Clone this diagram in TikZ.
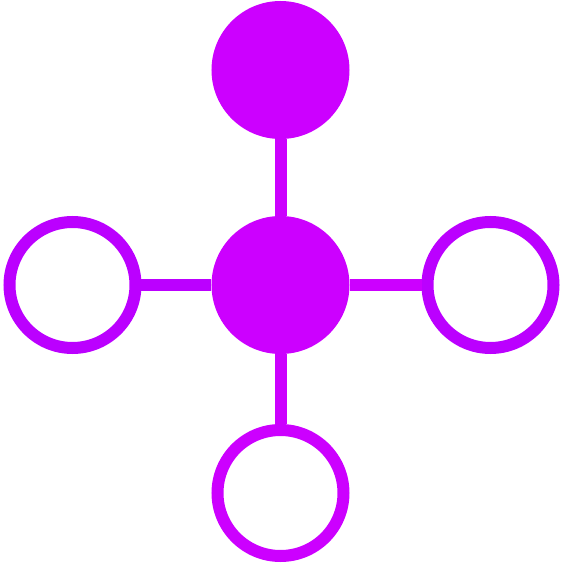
\documentclass[tikz,border=0pt]{standalone}
\usepackage{tikz}
\usetikzlibrary{positioning}
\definecolor{hubpurple}{HTML}{CC00FF}
\definecolor{leafpurple}{HTML}{BB00FF}

\begin{document}
\begin{tikzpicture}[
    filled/.style={circle,fill=hubpurple,minimum size=138pt,inner sep=0pt,outer sep=0pt},
    hollow/.style={circle,draw=#1,line width=12pt,fill=white,minimum size=126pt,inner sep=0pt},
    hollow/.default=leafpurple,
    link/.style={line width=12pt,#1},
    link/.default=hubpurple
  ]
    \useasboundingbox (-280.5pt,-282pt) rectangle (281.5pt,285pt);

    \node[filled] (hub) at (0,0) {};
    \node[filled,above=77pt of hub] (top) {};
    \node[hollow,left=70pt of hub] (west) {};
    \node[hollow,right=72pt of hub] (east) {};
    \node[hollow=hubpurple,below=70pt of hub] (south) {};

    \draw[link] (hub) -- (top);
    \draw[link=leafpurple] (hub) -- (west);
    \draw[link] (hub) -- (east);
    \draw[link] (hub) -- (south);
  \end{tikzpicture}
\end{document}
